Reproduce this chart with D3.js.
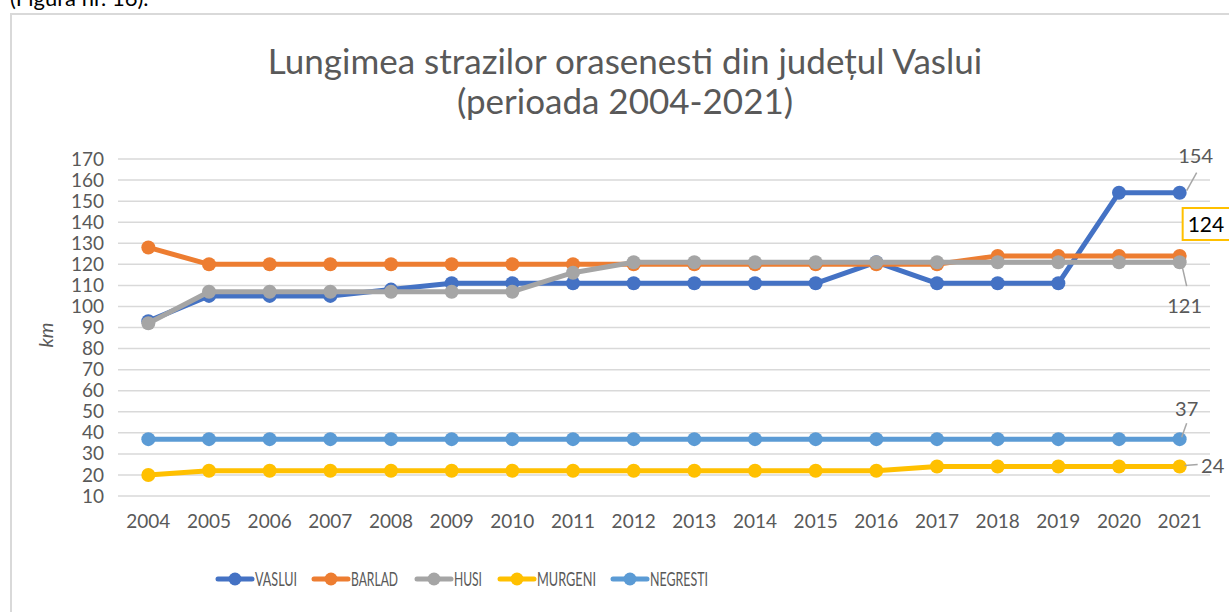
<!DOCTYPE html>
<html><head><meta charset="utf-8">
<script src="https://cdn.jsdelivr.net/npm/d3@7"></script>
<style>body{margin:0;background:#fff;}svg{display:block;}</style>
</head><body>
<svg id="c" width="1229" height="612"></svg>
<script>
const years = [2004,2005,2006,2007,2008,2009,2010,2011,2012,2013,2014,2015,2016,2017,2018,2019,2020,2021];
const seriesNames = ["VASLUI","BARLAD","HUSI","MURGENI","NEGRESTI"];
const vaslui   = [93,105,105,105,108,111,111,111,111,111,111,111,121,111,111,111,154,154];
const barlad   = [128,120,120,120,120,120,120,120,120,120,120,120,120,120,124,124,124,124];
const husi     = [92,107,107,107,107,107,107,116,121,121,121,121,121,121,121,121,121,121];
const murgeni  = [20,22,22,22,22,22,22,22,22,22,22,22,22,24,24,24,24,24];
const negresti = [37,37,37,37,37,37,37,37,37,37,37,37,37,37,37,37,37,37];
const yTicks = [10,20,30,40,50,60,70,80,90,100,110,120,130,140,150,160,170];
const colors = ["#4472c4","#ed7d31","#a5a5a5","#ffc000","#5b9bd5"];
const titleLines = ["Lungimea strazilor orasenesti din județul Vaslui","(perioada 2004-2021)"];

const data = [vaslui,barlad,husi,murgeni,negresti];
const svg = d3.select("#c");
const font = "Lato, 'Open Sans', sans-serif";

// page caption fragment and frame
svg.append("text").attr("x",10).attr("y",6).attr("font-family",font).attr("font-size",22).attr("fill","#000").text("(Figura nr. 16).");
svg.append("rect").attr("x",11).attr("y",14).attr("width",1240).attr("height",620).attr("fill","#fff").attr("stroke","#d9d9d9").attr("stroke-width",2);

const x = d3.scaleBand().domain(years).range([118,1210]);
const y = d3.scaleLinear().domain([10,170]).range([496,159]);
const cx = d => x(d)+x.bandwidth()/2;

// gridlines
svg.append("g").selectAll("line").data(yTicks).join("line")
  .attr("x1",118).attr("x2",1210).attr("y1",d=>y(d)).attr("y2",d=>y(d))
  .attr("stroke","#d9d9d9").attr("stroke-width",1.5);

// y axis
const ya = svg.append("g").attr("transform","translate(104,0)")
  .call(d3.axisLeft(y).tickValues(yTicks).tickSize(0).tickPadding(0));
ya.select(".domain").remove();
ya.selectAll("text").attr("font-family",font).attr("font-size",19).attr("fill","#595959");

// x axis
const xa = svg.append("g").attr("transform","translate(0,512)")
  .call(d3.axisBottom(x).tickSize(0).tickPadding(0));
xa.select(".domain").remove();
xa.selectAll("text").attr("font-family",font).attr("font-size",19).attr("fill","#595959").attr("dy","0.85em");

// title
svg.append("g").selectAll("text").data(titleLines).join("text")
  .attr("x",625).attr("y",(d,i)=>74+i*40).attr("text-anchor","middle")
  .attr("font-family",font).attr("font-size",35).attr("fill","#595959").text(d=>d);

// y label
svg.append("text").attr("transform","translate(53,335) rotate(-90)").attr("text-anchor","middle")
  .attr("font-family",font).attr("font-size",20).attr("font-style","italic").attr("fill","#595959").text("km");

// lines
const line = d3.line().x((d,i)=>cx(years[i])).y(d=>y(d));
data.forEach((s,k)=>{
  const g = svg.append("g");
  g.append("path").datum(s).attr("d",line).attr("fill","none").attr("stroke",colors[k]).attr("stroke-width",5).attr("stroke-linejoin","round");
  g.selectAll("circle").data(s).join("circle").attr("cx",(d,i)=>cx(years[i])).attr("cy",d=>y(d)).attr("r",7).attr("fill",colors[k]);
});

// data labels on last point
const last = years[years.length-1];
const lx = cx(last);
const lbl = (txt,tx,ty,lead)=>{
  if(lead) svg.append("line").attr("x1",lead[0]).attr("y1",lead[1]).attr("x2",lead[2]).attr("y2",lead[3]).attr("stroke","#a6a6a6").attr("stroke-width",1.5);
  svg.append("text").attr("x",tx).attr("y",ty).attr("text-anchor","middle").attr("font-family",font).attr("font-size",20).attr("fill","#595959").text(txt);
};
lbl(vaslui[17], lx+16, 163, [lx+17,y(vaslui[17])-20,lx+7,y(vaslui[17])-2]);
lbl(husi[17], lx+5, 313, [lx+2,y(husi[17])+2,lx+7,y(husi[17])+24]);
lbl(negresti[17], lx+7, 416, [lx+7,y(negresti[17])-16,lx+2,y(negresti[17])-2]);
lbl(murgeni[17], lx+33, 473, [lx+5,y(murgeni[17])-1,lx+18,y(murgeni[17])-2]);
// boxed label for BARLAD
svg.append("rect").attr("x",lx+3).attr("y",208).attr("width",60).attr("height",32).attr("fill","#fff").attr("stroke","#ffc000").attr("stroke-width",2);
svg.append("text").attr("x",lx+8).attr("y",232).attr("font-family",font).attr("font-size",21).attr("fill","#000").text(barlad[17]);

// legend
const legX = [218,314,417,500,613];
const legW = [42,47,28,59,58];
const lg = svg.append("g").selectAll("g").data(seriesNames).join("g").attr("transform",(d,i)=>`translate(${legX[i]},579)`);
lg.append("line").attr("x1",0).attr("x2",34).attr("stroke",(d,i)=>colors[i]).attr("stroke-width",5).attr("stroke-linecap","round");
lg.append("circle").attr("cx",17).attr("r",6.5).attr("fill",(d,i)=>colors[i]);
lg.append("text").attr("x",37).attr("dy","0.36em").attr("font-family",font).attr("font-size",18.5)
  .attr("textLength",(d,i)=>legW[i]).attr("lengthAdjust","spacingAndGlyphs").attr("fill","#595959").text(d=>d);
</script>
</body></html>
